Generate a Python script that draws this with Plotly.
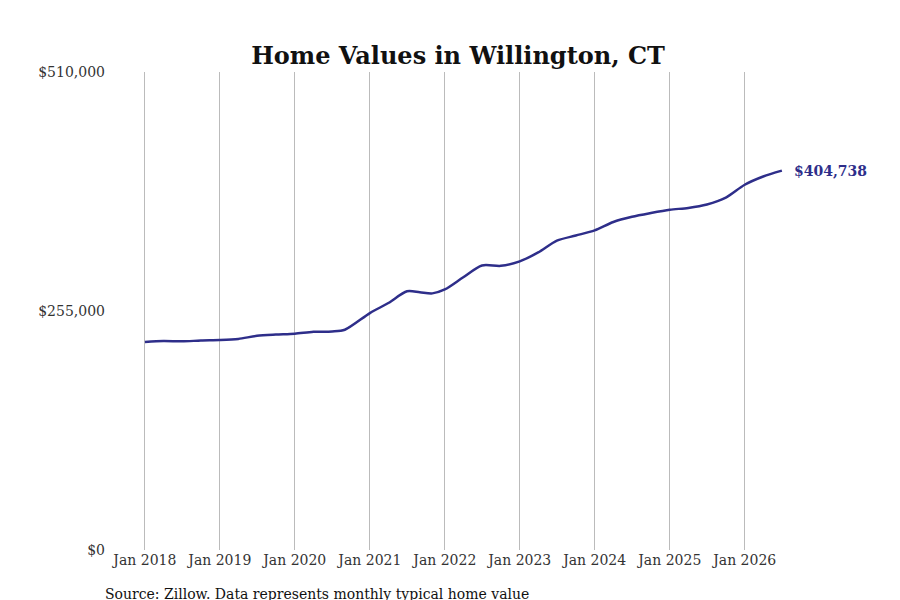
import plotly.graph_objects as go

dates = ["2018-01-01","2018-04-01","2018-07-01","2018-10-01","2019-01-01","2019-04-01","2019-07-01","2019-10-01",
         "2020-01-01","2020-04-01","2020-07-01","2020-09-01","2021-01-01","2021-04-01","2021-07-01","2021-09-01","2021-11-01",
         "2022-01-01","2022-04-01","2022-07-01","2022-10-01","2023-01-01","2023-04-01","2023-07-01","2023-10-01",
         "2024-01-01","2024-04-01","2024-07-01","2024-10-01","2025-01-01","2025-04-01","2025-07-01","2025-10-01",
         "2026-01-01","2026-04-01","2026-07-01"]
values = [221900,223000,222600,223500,224000,225200,228500,229800,
          230700,232800,233200,235000,252800,263500,276000,275000,273800,
          278000,291000,303600,303200,308000,317500,330000,335500,
          341000,350000,355500,359500,363000,365000,368700,376000,
          389700,398500,404738]

SERIF = "DejaVu Serif"
fig = go.Figure()
fig.add_trace(go.Scatter(x=dates, y=values, mode="lines",
                         line=dict(color="#2e2e8a", width=2.5, shape="spline", smoothing=0.8),
                         hoverinfo="skip"))
fig.add_annotation(x=dates[-1], y=values[-1], text="<b>$%s</b>" % format(values[-1], ","),
                   xanchor="left", xshift=10, showarrow=False,
                   font=dict(family=SERIF, size=14, color="#2e2e8a"))
fig.add_annotation(xref="paper", yref="paper", x=-0.01, y=-0.093, xanchor="left", yanchor="middle",
                   text="Source: Zillow. Data represents monthly typical home value", showarrow=False,
                   font=dict(family=SERIF, size=14, color="#111"))
fig.update_layout(
    width=900, height=600, plot_bgcolor="white", paper_bgcolor="white",
    margin=dict(l=102, r=98, t=64, b=58), showlegend=False,
    title=dict(text="<b>Home Values in Willington, CT</b>", x=0.5, y=0.935, xanchor="center",
               font=dict(family=SERIF, size=24, color="#111")),
    font=dict(family=SERIF, size=14, color="#333"),
    xaxis=dict(range=["2017-07-15", "2026-11-15"], showgrid=True, gridcolor="#bbbbbb",
               tickvals=["%d-01-01" % y for y in range(2018, 2027)],
               ticktext=["Jan %d" % y for y in range(2018, 2027)], zeroline=False, showline=False),
    yaxis=dict(range=[0, 510000], tickvals=[0, 255000, 510000],
               ticktext=["$0", "$255,000", "$510,000"], showgrid=False, zeroline=False, ticklabelstandoff=4),
)
fig.write_html("out.html")
